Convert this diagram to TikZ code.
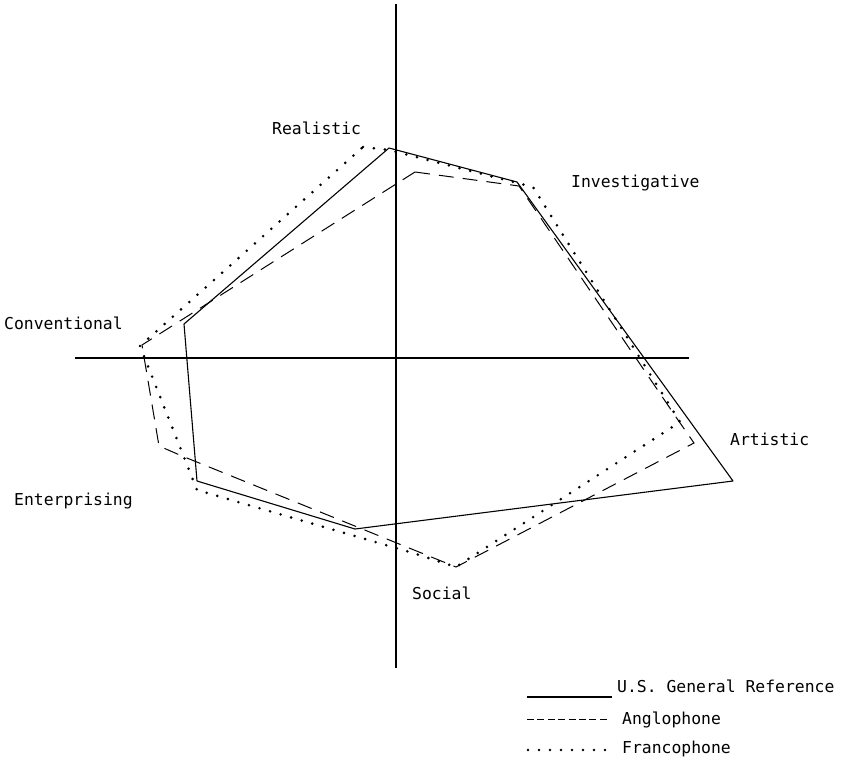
\documentclass[tikz,border=0pt]{standalone}
\usepackage{fontspec}
\setmonofont{DejaVu Sans Mono}
\usetikzlibrary{positioning}

\begin{document}
\begin{tikzpicture}[
  x=1pt,y=-1pt,
  font=\ttfamily\fontsize{16.4}{18}\selectfont,
  axis/.style={line width=1.2pt},
  gen/.style={line width=1.1pt,line join=round},
  ang/.style={line width=1pt,dash pattern=on 15pt off 9pt},
  fra/.style={line width=2.9pt,line cap=round,dash pattern=on 0pt off 11pt},
  lab/.style={anchor=base west,inner sep=0pt},
  ]
  \useasboundingbox (0,0) rectangle (856,761);
  % axes
  \coordinate (vtop) at (396,4);
  \coordinate (vbot) at (396,668);
  \coordinate (hl)   at (75,358);
  \coordinate (hr)   at (689,358);
  \draw[axis] (vtop) -- (vbot);
  \draw[axis] (hl) -- (hr);
  % U.S. general reference
  \coordinate (gR) at (389,148);
  \coordinate (gI) at (517,182);
  \coordinate (gA) at (733,481);
  \coordinate (gS) at (355,529);
  \coordinate (gE) at (197,481);
  \coordinate (gC) at (184,324);
  \draw[gen] (gR) -- (gI) -- (gA) -- (gS) -- (gE) -- (gC) -- cycle;
  % anglophone
  \coordinate (aR)  at (415,172);
  \coordinate (aI)  at (519,186);
  \coordinate (aA1) at (678,420);
  \coordinate (aA)  at (694,443);
  \coordinate (aS)  at (456,567);
  \coordinate (aE1) at (182,456);
  \coordinate (aE)  at (159,446);
  \coordinate (aC)  at (142,345);
  \draw[ang] (aR) -- (aI) -- (aA1) -- (aA) -- (aS) -- (aE1) -- (aE) -- (aC) -- cycle;
  % francophone
  \coordinate (fR)  at (363,147);
  \coordinate (fR1) at (389,150);
  \coordinate (fI)  at (533,187);
  \coordinate (fA)  at (680,422);
  \coordinate (fS)  at (456,567);
  \coordinate (fS1) at (413,553);
  \coordinate (fE)  at (197,490);
  \coordinate (fC)  at (140,346);
  \draw[fra] (fR) -- (fR1) -- (fI) -- (fA) -- (fS) -- (fS1) -- (fE) -- (fC) -- cycle;
  % scale labels
  \node[lab] (real) at (272,134) {Realistic};
  \node[lab] (inv)  at (571,187) {Investigative};
  \node[lab] (conv) at (4,329)   {Conventional};
  \node[lab] (art)  at (730,445) {Artistic};
  \node[lab] (ent)  at (14,505)  {Enterprising};
  \node[lab] (soc)  at (412,599) {Social};
  % legend
  \node[lab] (kgen) at (617,692) {U.S. General Reference};
  \node[lab] (kang) at (622,724) {Anglophone};
  \node[lab] (kfra) at (622,753) {Francophone};
  \coordinate (kg1) at (527,697);
  \coordinate (kg2) at (612,697);
  \coordinate (ka1) at (527,719);
  \coordinate (ka2) at (608,719);
  \coordinate (kf1) at (528,750);
  \coordinate (kf2) at (606,750);
  \draw[gen] (kg1) -- (kg2);
  \draw[line width=1pt,dash pattern=on 7pt off 3.4pt] (ka1) -- (ka2);
  \draw[fra,line width=2.6pt] (kf1) -- (kf2);
\end{tikzpicture}
\end{document}
